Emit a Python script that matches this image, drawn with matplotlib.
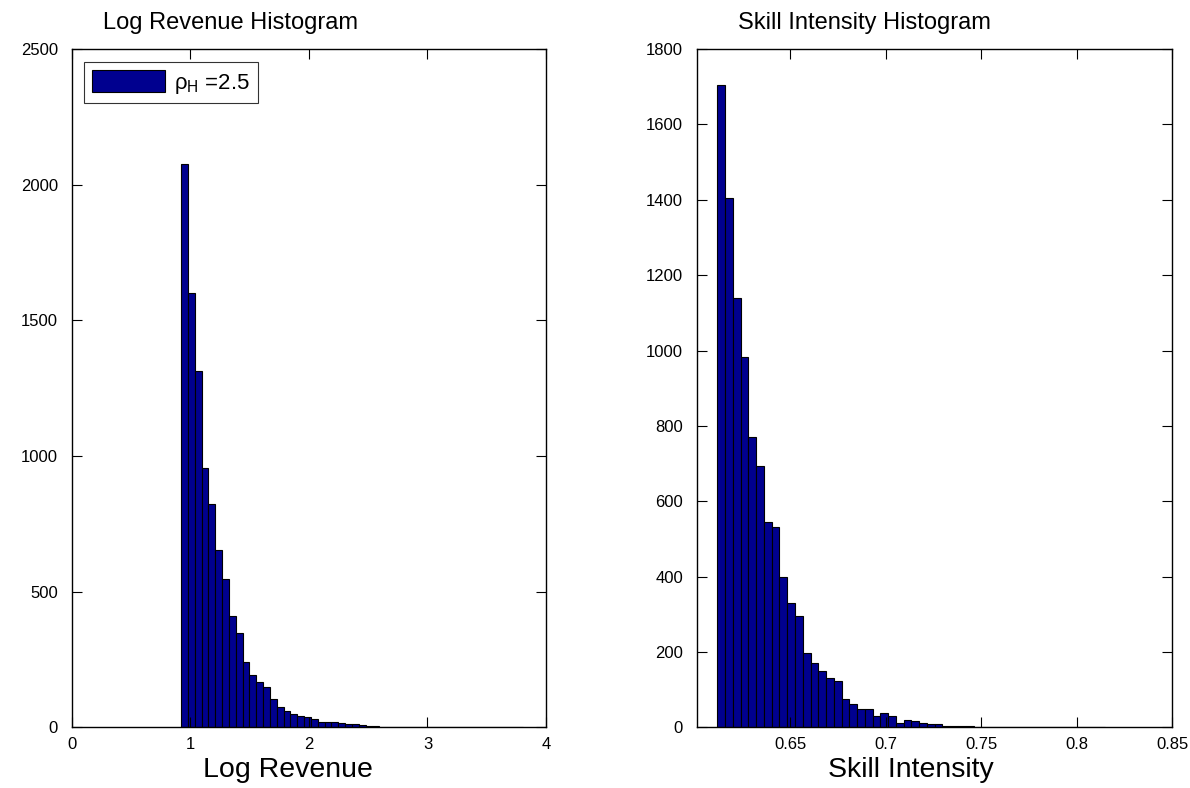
import numpy as np
import matplotlib.pyplot as plt

plt.rcParams['font.family'] = ['Liberation Sans', 'DejaVu Sans']
plt.rcParams['mathtext.fontset'] = 'custom'
plt.rcParams['mathtext.rm'] = 'Liberation Sans'
plt.rcParams['mathtext.it'] = 'Liberation Sans'

# log revenue histogram: 50 bins between min and max
lr_lo, lr_hi = 0.92, 3.805
lr_counts = [2075, 1602, 1313, 955, 825, 655, 548, 412, 348, 243,
             193, 167, 151, 105, 74, 61, 49, 41, 40, 31,
             19, 22, 20, 15, 12, 11, 9, 5, 4, 3,
             2, 2, 1, 2, 0, 0, 1, 1, 0, 0,
             0, 0, 0, 0, 0, 0, 0, 1, 0, 1]

# skill intensity histogram: 50 bins between min and max
si_lo, si_hi = 0.6117, 0.8151
si_counts = [1704, 1406, 1139, 982, 770, 693, 545, 531, 400, 329,
             297, 197, 170, 150, 132, 123, 75, 61, 50, 49,
             31, 39, 31, 13, 21, 17, 12, 10, 10, 5,
             5, 4, 3, 2, 2, 2, 0, 0, 0, 0,
             0, 1, 0, 0, 0, 0, 0, 0, 0, 1]

rho_h = 2.5
bar_color = '#00008f'


def draw_hist(ax, lo, hi, counts, label=None):
    edges = np.linspace(lo, hi, len(counts) + 1)
    ax.bar(edges[:-1], counts, width=np.diff(edges), align='edge',
           color=bar_color, edgecolor='black', linewidth=0.8, label=label)
    ax.tick_params(direction='in', length=7, width=0.8, top=True, right=True,
                   labelsize=12, colors='black')
    ax.tick_params(axis='y', pad=10)
    ax.tick_params(axis='x', pad=7)
    for s in ax.spines.values():
        s.set_linewidth(1.0)


fig = plt.figure(figsize=(11.9, 7.88), dpi=100)
ax1 = fig.add_axes([0.0605, 0.0768, 0.3983, 0.861])
ax2 = fig.add_axes([0.5857, 0.0768, 0.3992, 0.861])

draw_hist(ax1, lr_lo, lr_hi, lr_counts, label=r'ρ$_{\mathrm{H}}$ =%g' % rho_h)
ax1.set_xlim(0, 4)
ax1.set_ylim(0, 2500)
ax1.set_xticks([0, 1, 2, 3, 4])
ax1.set_yticks(np.arange(0, 2501, 500))
ax1.text(0.065, 1.038, 'Log Revenue Histogram', transform=ax1.transAxes,
         fontsize=17, ha='left', va='center')
ax1.text(0.276, -0.063, 'Log Revenue', transform=ax1.transAxes,
         fontsize=20.5, ha='left', va='center')
leg = ax1.legend(loc='upper left', fontsize=16, frameon=True, fancybox=False,
                 edgecolor='black', handlelength=3.3, handleheight=1.2,
                 borderpad=0.35, handletextpad=0.4, borderaxespad=0,
                 bbox_to_anchor=(0.025, 0.981))
leg.get_frame().set_linewidth(0.8)

draw_hist(ax2, si_lo, si_hi, si_counts)
ax2.set_xlim(0.601, 0.85)
ax2.set_ylim(0, 1800)
ax2.set_xticks([0.65, 0.7, 0.75, 0.8, 0.85])
ax2.set_xticklabels(['0.65', '0.7', '0.75', '0.8', '0.85'])
ax2.set_yticks(np.arange(0, 1801, 200))
ax2.text(0.086, 1.038, 'Skill Intensity Histogram', transform=ax2.transAxes,
         fontsize=17, ha='left', va='center')
ax2.text(0.276, -0.063, 'Skill Intensity', transform=ax2.transAxes,
         fontsize=20.5, ha='left', va='center')

fig.savefig('out.png', dpi=100)
